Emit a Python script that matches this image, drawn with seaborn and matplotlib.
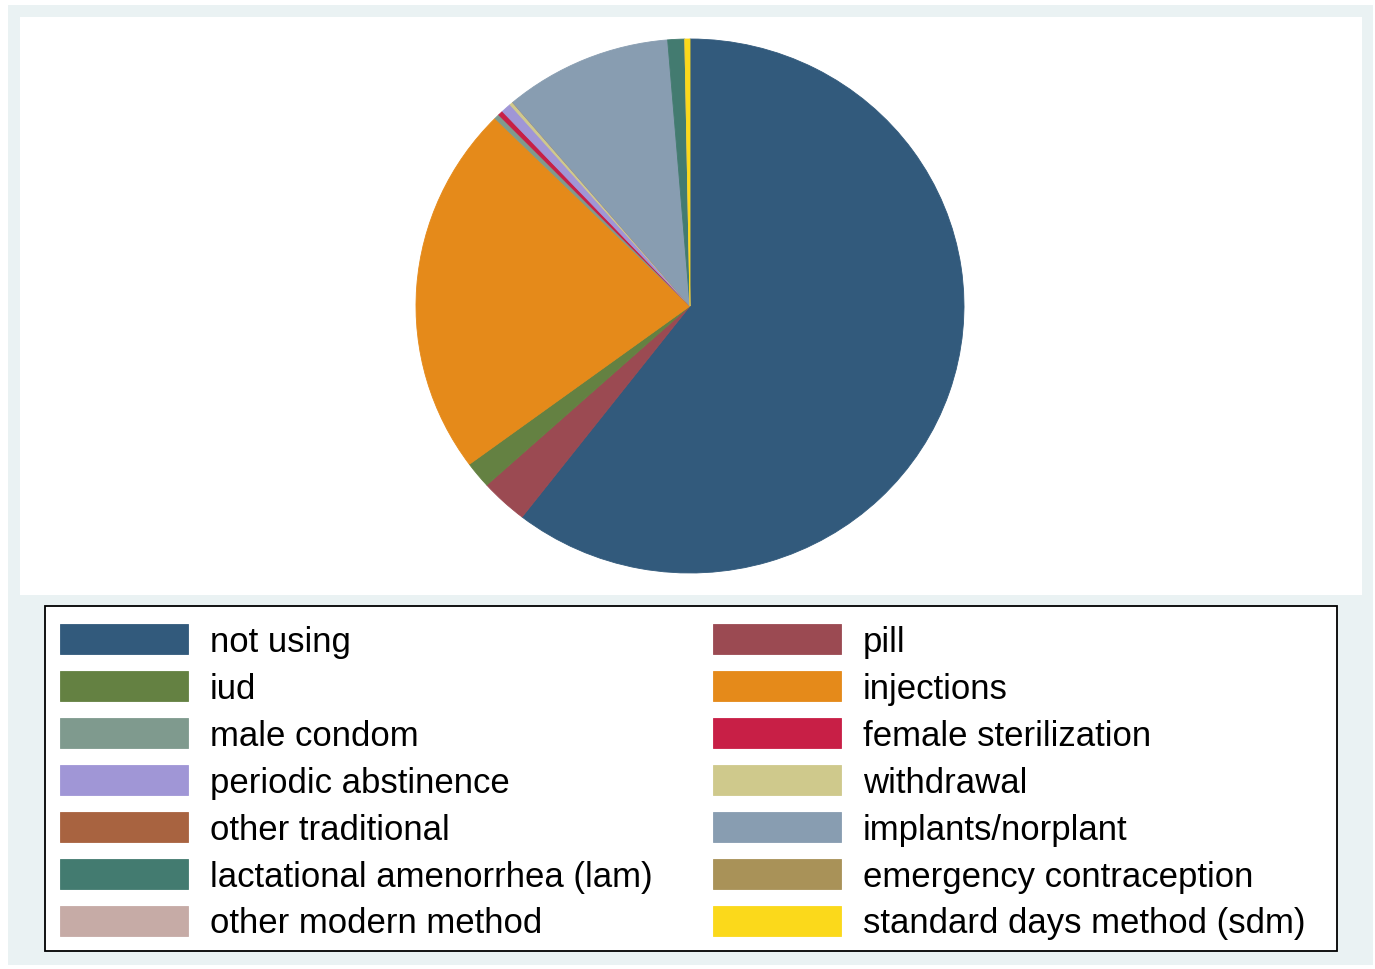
# Contraceptive method mix - pie chart (Stata s2color look)

import matplotlib.pyplot as plt
import seaborn as sns
from matplotlib.patches import Rectangle

sns.set_theme(style="white")
plt.rcParams['font.family'] = ['Liberation Sans', 'DejaVu Sans']
plt.rcParams['text.color'] = 'black'

methods = ["not using", "pill", "iud", "injections", "male condom",
           "female sterilization", "periodic abstinence", "withdrawal",
           "other traditional", "implants/norplant", "lactational amenorrhea (lam)",
           "emergency contraception", "other modern method", "standard days method (sdm)"]
shares = [60.5, 2.8, 1.6, 22.5, 0.3, 0.3, 0.6, 0.2, 0.0, 9.9, 1.0, 0.0, 0.0, 0.3]
colors = ["#325a7c", "#9b4a52", "#648142", "#e58a1a", "#7f9a8e", "#c81f46", "#a096d6",
          "#cfc98c", "#a86340", "#889db1", "#437b70", "#a99258", "#c6aba6", "#fbd91b"]

W, H = 1375, 970
fig = plt.figure(figsize=(W / 100, H / 100), dpi=100)
fig.patch.set_facecolor("white")

def fr(x0, y0, x1, y1):
    # pixel box (top-left origin) -> figure fraction
    return x0 / W, 1 - y1 / H, (x1 - x0) / W, (y1 - y0) / H

def box(x0, y0, x1, y1, fc, ec="none", lw=0, z=-2):
    bx, by, bw, bh = fr(x0, y0, x1, y1)
    fig.patches.append(Rectangle((bx, by), bw, bh, transform=fig.transFigure,
                                 facecolor=fc, edgecolor=ec, linewidth=lw, zorder=z))

box(8, 6, 1373, 966, "#eaf2f3", z=-3)
box(20, 18, 1362, 596, "white")
box(45, 607, 1337, 952, "white", ec="black", lw=1.3)

ax = fig.add_axes(fr(690 - 274, 307 - 267, 690 + 274, 307 + 267))
wedges, _ = ax.pie(shares, colors=colors, startangle=90, counterclock=False,
                   wedgeprops=dict(linewidth=0.6))
for w, c in zip(wedges, colors):
    w.set_edgecolor(c)
ax.set_aspect("auto")
ax.set_xlim(-1, 1)
ax.set_ylim(-1, 1)
ax.axis("off")

# legend is filled column-wise by matplotlib; reorder so it reads row-wise
order = list(range(0, len(methods), 2)) + list(range(1, len(methods), 2))
leg = fig.legend([wedges[i] for i in order], [methods[i] for i in order],
                 ncol=2, loc="upper left", bbox_to_anchor=(60 / W, 1 - 625 / H),
                 borderaxespad=0, borderpad=0, fontsize=25,
                 handlelength=3.69, handleheight=0.95, handletextpad=0.63,
                 labelspacing=0.375, columnspacing=1.73, frameon=False)
for t in leg.get_texts():
    t.set_color("black")

plt.savefig("out.png", dpi=100, facecolor=fig.get_facecolor())
